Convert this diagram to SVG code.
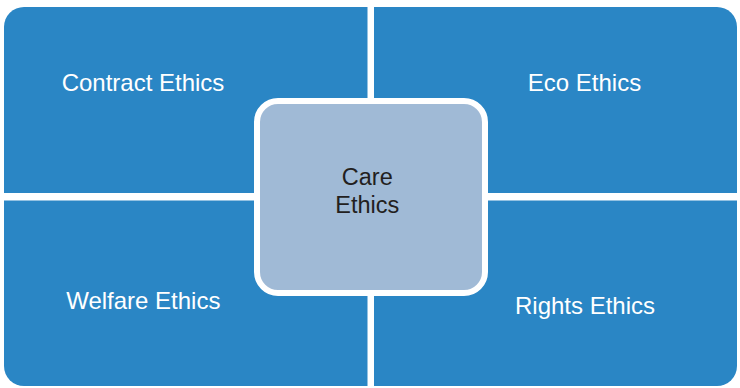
<svg xmlns="http://www.w3.org/2000/svg" width="740" height="388" viewBox="0 0 740 388">
<style>
.q{fill:#2a86c5}
.ql{font-family:"Liberation Sans",Arial,sans-serif;font-size:24px;fill:#ffffff;text-anchor:middle}
.c{fill:#a0bad6;stroke:#ffffff;stroke-width:6}
.cl{font-family:"Liberation Sans",Arial,sans-serif;font-size:23.5px;fill:#231f20;text-anchor:middle}
</style>
<rect width="740" height="388" fill="#ffffff"/>
<g id="contract">
<path class="q" d="M4,193 V27 A20,20 0 0 1 24,7 H367.5 V193 Z"/>
<text class="ql" x="143" y="91">Contract Ethics</text>
</g>
<g id="eco">
<path class="q" d="M374,7 H717 A20,20 0 0 1 737,27 V193 H374 Z"/>
<text class="ql" x="584.5" y="91">Eco Ethics</text>
</g>
<g id="welfare">
<path class="q" d="M4,200.5 H367.5 V386 H24 A20,20 0 0 1 4,366 Z"/>
<text class="ql" x="143.3" y="308.5">Welfare Ethics</text>
</g>
<g id="rights">
<path class="q" d="M374,200.5 H737 V366 A20,20 0 0 1 717,386 H374 Z"/>
<text class="ql" x="585" y="313.5">Rights Ethics</text>
</g>
<g id="care">
<rect class="c" x="257" y="101" width="228" height="192" rx="21"/>
<text class="cl" x="367.3" y="185">Care</text>
<text class="cl" x="367.3" y="213">Ethics</text>
</g>
<g id="connectors"></g>
</svg>
